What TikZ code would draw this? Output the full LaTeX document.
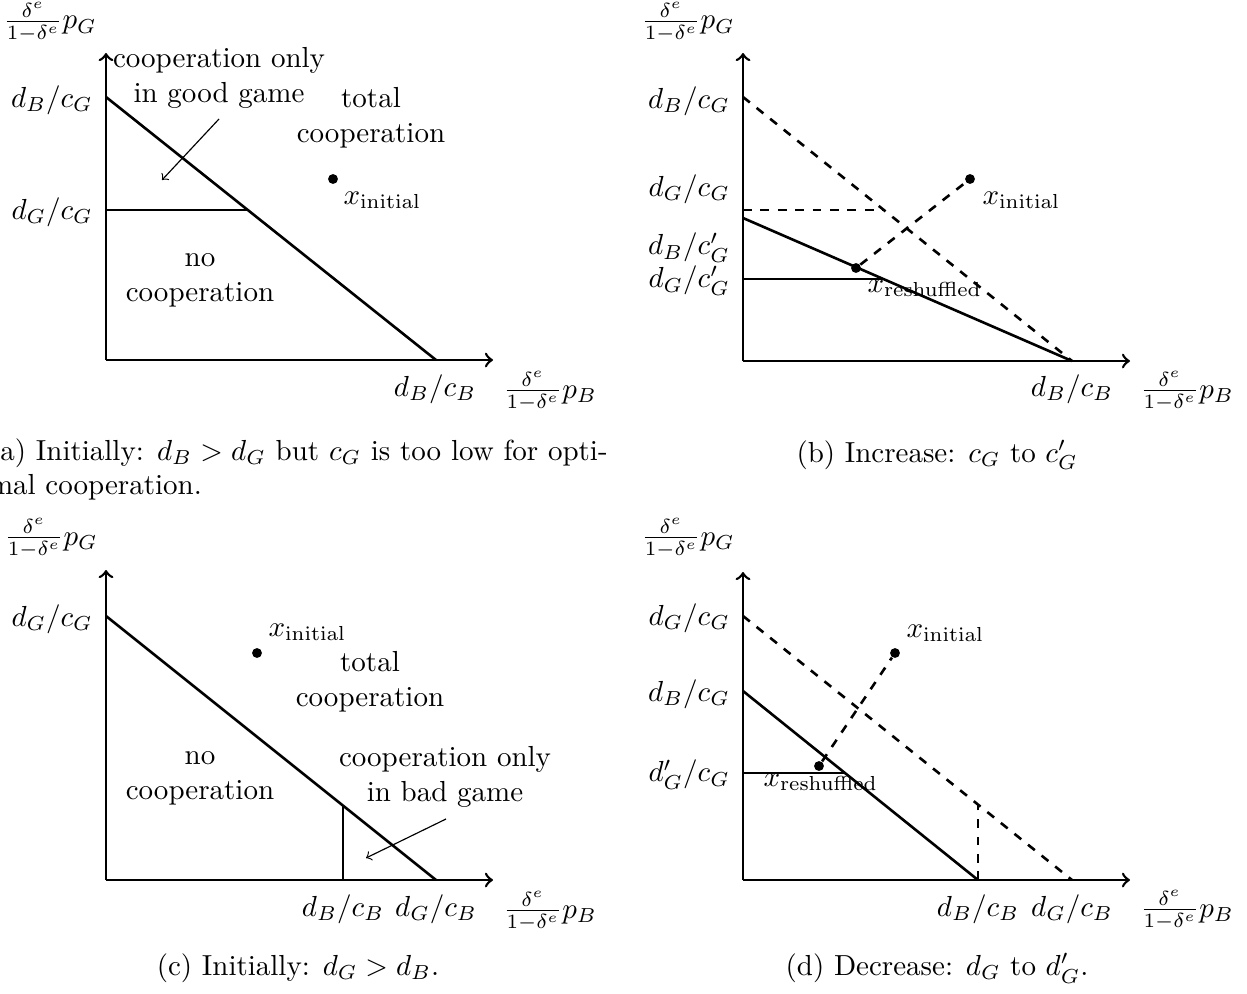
\documentclass[tikz,border=0pt]{standalone}
\begin{document}
\begin{tikzpicture}[x=0.3448pt,y=-0.3448pt,
  ax/.style={line width=0.9pt,->},
  ln/.style={line width=0.9pt},
  dln/.style={line width=0.9pt,dashed},
  pt/.style={circle,fill,inner sep=0pt,minimum size=3.4pt},
  lbl/.style={inner sep=0pt},
  tk/.style={anchor=east},
  reg/.style={inner sep=0pt,align=center},
  note/.style={->,thin}]
\useasboundingbox (0,0) rectangle (1247,993);

% ---------------- panel (a)
\begin{scope}[shift={(106,360)}]
\coordinate (aO) at (0,0);
\coordinate (aY) at (0,-307);
\coordinate (aX) at (387,0);
\coordinate (aD1) at (0,-263);
\coordinate (aD2) at (330,0);
\coordinate (aH1) at (0,-150);
\coordinate (aH2) at (142,-150);
\draw[ax] (aO) -- (aY);
\draw[ax] (aO) -- (aX);
\draw[ln] (aD1) -- (aD2);
\draw[ln] (aH1) -- (aH2);
\node[pt] (aInit) at (227,-181) {};
\node[lbl,anchor=west] (aInitL) at (237,-160) {$x_{\mathrm{initial}}$};
\node[reg] (aGood) at (113,-282) {cooperation only\\in good game};
\node[reg] (aTot) at (265,-242) {total\\cooperation};
\node[reg] (aNo) at (94,-80) {no\\cooperation};
\coordinate (aN1) at (113,-241);
\coordinate (aN2) at (56,-180);
\draw[note] (aN1) -- (aN2);
\node[tk] (aL1) at (-3,-260) {$d_B/c_G$};
\node[tk] (aL2) at (-3,-148) {$d_G/c_G$};
\node (aT1) at (329,29) {$d_B/c_B$};
\node (aXL) at (444,31) {$\frac{\delta^e}{1-\delta^e}p_B$};
\node (aYL) at (-56,-338) {$\frac{\delta^e}{1-\delta^e}p_G$};
\end{scope}

% ---------------- panel (b)
\begin{scope}[shift={(743,361)}]
\coordinate (bO) at (0,0);
\coordinate (bY) at (0,-308);
\coordinate (bX) at (387,0);
\coordinate (bD1) at (0,-264);
\coordinate (bD2) at (329,0);
\coordinate (bH1) at (0,-151);
\coordinate (bH2) at (141,-151);
\coordinate (bS1) at (0,-143);
\coordinate (bH3) at (0,-82);
\coordinate (bH4) at (140,-82);
\draw[ax] (bO) -- (bY);
\draw[ax] (bO) -- (bX);
\draw[dln] (bD1) -- (bD2);
\draw[dln] (bH1) -- (bH2);
\draw[ln] (bS1) -- (bD2);
\draw[ln] (bH3) -- (bH4);
\node[pt] (bInit) at (227,-182) {};
\node[pt] (bRes) at (113,-93) {};
\draw[dln] (bRes) -- (bInit);
\node[lbl,anchor=west] (bInitL) at (239,-161) {$x_{\mathrm{initial}}$};
\node[lbl,anchor=west] (bResL) at (124,-73) {$x_{\mathrm{reshuffled}}$};
\node[tk] (bL1) at (-3,-260) {$d_B/c_G$};
\node[tk] (bL2) at (-3,-172) {$d_G/c_G$};
\node[tk] (bL3) at (-3,-113) {$d_B/c'_G$};
\node[tk] (bL4) at (-3,-80) {$d_G/c'_G$};
\node (bT1) at (329,28) {$d_B/c_B$};
\node (bXL) at (444,30) {$\frac{\delta^e}{1-\delta^e}p_B$};
\node (bYL) at (-55,-339) {$\frac{\delta^e}{1-\delta^e}p_G$};
\end{scope}

% ---------------- panel (c)
\begin{scope}[shift={(106,880)}]
\coordinate (cO) at (0,0);
\coordinate (cY) at (0,-310);
\coordinate (cX) at (387,0);
\coordinate (cD1) at (0,-264);
\coordinate (cD2) at (330,0);
\coordinate (cV1) at (237,0);
\coordinate (cV2) at (237,-74.4);
\draw[ax] (cO) -- (cY);
\draw[ax] (cO) -- (cX);
\draw[ln] (cD1) -- (cD2);
\draw[ln] (cV1) -- (cV2);
\node[pt] (cInit) at (151,-227) {};
\node[lbl,anchor=west] (cInitL) at (162,-248) {$x_{\mathrm{initial}}$};
\node[reg] (cTot) at (264,-198) {total\\cooperation};
\node[reg] (cNo) at (94,-102) {no\\cooperation};
\node[reg] (cBad) at (339,-103) {cooperation only\\in bad game};
\coordinate (cN1) at (340,-61);
\coordinate (cN2) at (260,-22);
\draw[note] (cN1) -- (cN2);
\node[tk] (cL1) at (-3,-261) {$d_G/c_G$};
\node (cT1) at (237,29) {$d_B/c_B$};
\node (cT2) at (330,29) {$d_G/c_B$};
\node (cXL) at (444,31) {$\frac{\delta^e}{1-\delta^e}p_B$};
\node (cYL) at (-55,-342) {$\frac{\delta^e}{1-\delta^e}p_G$};
\end{scope}

% ---------------- panel (d)
\begin{scope}[shift={(743,880)}]
\coordinate (dO) at (0,0);
\coordinate (dY) at (0,-308);
\coordinate (dX) at (387,0);
\coordinate (dD1) at (0,-264);
\coordinate (dD2) at (329,0);
\coordinate (dS1) at (0,-189);
\coordinate (dS2) at (235,0);
\coordinate (dH1) at (0,-107);
\coordinate (dH2) at (102,-107);
\coordinate (dV2) at (235,-75.4);
\draw[ax] (dO) -- (dY);
\draw[ax] (dO) -- (dX);
\draw[dln] (dD1) -- (dD2);
\draw[ln] (dS1) -- (dS2);
\draw[ln] (dH1) -- (dH2);
\draw[dln] (dS2) -- (dV2);
\node[pt] (dInit) at (152,-227) {};
\node[pt] (dRes) at (76,-114) {};
\draw[dln] (dRes) -- (dInit);
\node[lbl,anchor=west] (dInitL) at (163,-247) {$x_{\mathrm{initial}}$};
\node[lbl,anchor=west] (dResL) at (20,-98) {$x_{\mathrm{reshuffled}}$};
\node[tk] (dL1) at (-3,-262) {$d_G/c_G$};
\node[tk] (dL2) at (-3,-186) {$d_B/c_G$};
\node[tk] (dL3) at (-3,-105) {$d'_G/c_G$};
\node (dT1) at (235,29) {$d_B/c_B$};
\node (dT2) at (329,29) {$d_G/c_B$};
\node (dXL) at (444,30) {$\frac{\delta^e}{1-\delta^e}p_B$};
\node (dYL) at (-55,-342) {$\frac{\delta^e}{1-\delta^e}p_G$};
\end{scope}

% ---------------- captions
\node[lbl,anchor=base west] (capA1) at (-11.5,460) {\hbox to 213.3pt{(a) Initially: $d_B > d_G$ but $c_G$ is too low for opti-}};
\node[lbl,anchor=base west] (capA2) at (-11.5,494) {mal cooperation.};
\node[lbl,anchor=base] (capB) at (937,462) {(b) Increase: $c_G$ to $c'_G$};
\node[lbl,anchor=base] (capC) at (298,975) {(c) Initially: $d_G > d_B$.};
\node[lbl,anchor=base] (capD) at (937,975) {(d) Decrease: $d_G$ to $d'_G$.};
\end{tikzpicture}
\end{document}
